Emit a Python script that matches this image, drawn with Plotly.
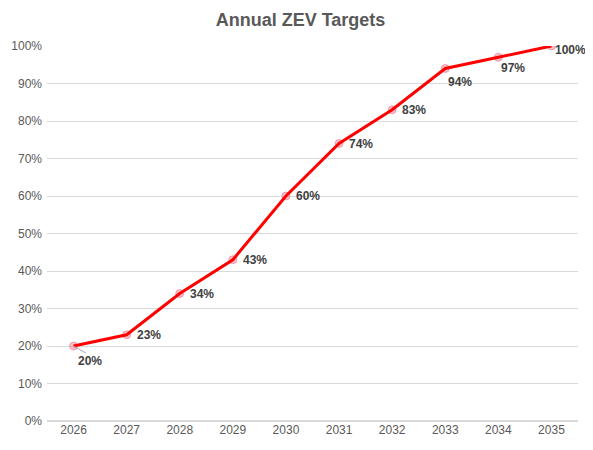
import plotly.graph_objects as go

# data
years = ["2026", "2027", "2028", "2029", "2030", "2031", "2032", "2033", "2034", "2035"]
targets = [0.20, 0.23, 0.34, 0.43, 0.60, 0.74, 0.83, 0.94, 0.97, 1.00]
labels = ["20%", "23%", "34%", "43%", "60%", "74%", "83%", "94%", "97%", "100%"]

# label offsets in px (left edge of label relative to point; positive dy = down)
label_dx = [2, 8, 8, 8, 8, 8, 8, 1, 1, 2]
label_dy = [15, 0, 0, 0, 0, 0, 0, 13, 11, 4]

fig = go.Figure()

# markers sit under the line
fig.add_trace(go.Scatter(
    x=years, y=targets, mode="markers",
    marker=dict(size=8, color="rgba(240,140,160,0.55)",
                line=dict(width=1, color="rgba(230,120,140,0.6)")),
    hoverinfo="skip", showlegend=False,
))
fig.add_trace(go.Scatter(
    x=years, y=targets, mode="lines",
    line=dict(color="#ff0000", width=3),
    showlegend=False,
))

# category axis -> annotate by index, "2026" would be read as a number
for i, (val, txt) in enumerate(zip(targets, labels)):
    fig.add_annotation(
        x=i, y=val, text="<b>%s</b>" % txt, showarrow=False,
        xanchor="left", yanchor="middle", xshift=label_dx[i], yshift=-label_dy[i],
        font=dict(family="Liberation Sans, Arial", size=12, color="#404040"),
    )

# little leader line on the first label
fig.add_annotation(
    x=0, y=targets[0], ax=14, ay=8, text="",
    showarrow=True, arrowhead=0, arrowwidth=1, arrowcolor="#a6a6a6",
)

# page body has an 8px margin: keep the figure inside it so no scrollbar shows
fig.update_layout(
    width=585, height=434,
    paper_bgcolor="white", plot_bgcolor="white",
    margin=dict(l=39, r=15, t=38, b=21),
    title=dict(text="<b>Annual ZEV Targets</b>", x=0.5, xanchor="center",
               y=1 - 12 / 434, yanchor="middle",
               font=dict(family="Liberation Sans, Arial", size=18, color="#595959")),
    font=dict(family="Liberation Sans, Arial", size=12, color="#595959"),
    xaxis=dict(type="category", showgrid=False, showline=False, ticks="",
               range=[-0.5, 9.5], automargin=False,
               tickfont=dict(size=12, color="#595959")),
    yaxis=dict(range=[0, 1.0], dtick=0.1, tickformat=".0%", gridcolor="#d9d9d9",
               gridwidth=1, zeroline=True, zerolinecolor="#d9d9d9", showline=False,
               ticks="", automargin=False, ticklabelstandoff=4,
               tickfont=dict(size=12, color="#595959")),
)

fig.write_html("out.html")
